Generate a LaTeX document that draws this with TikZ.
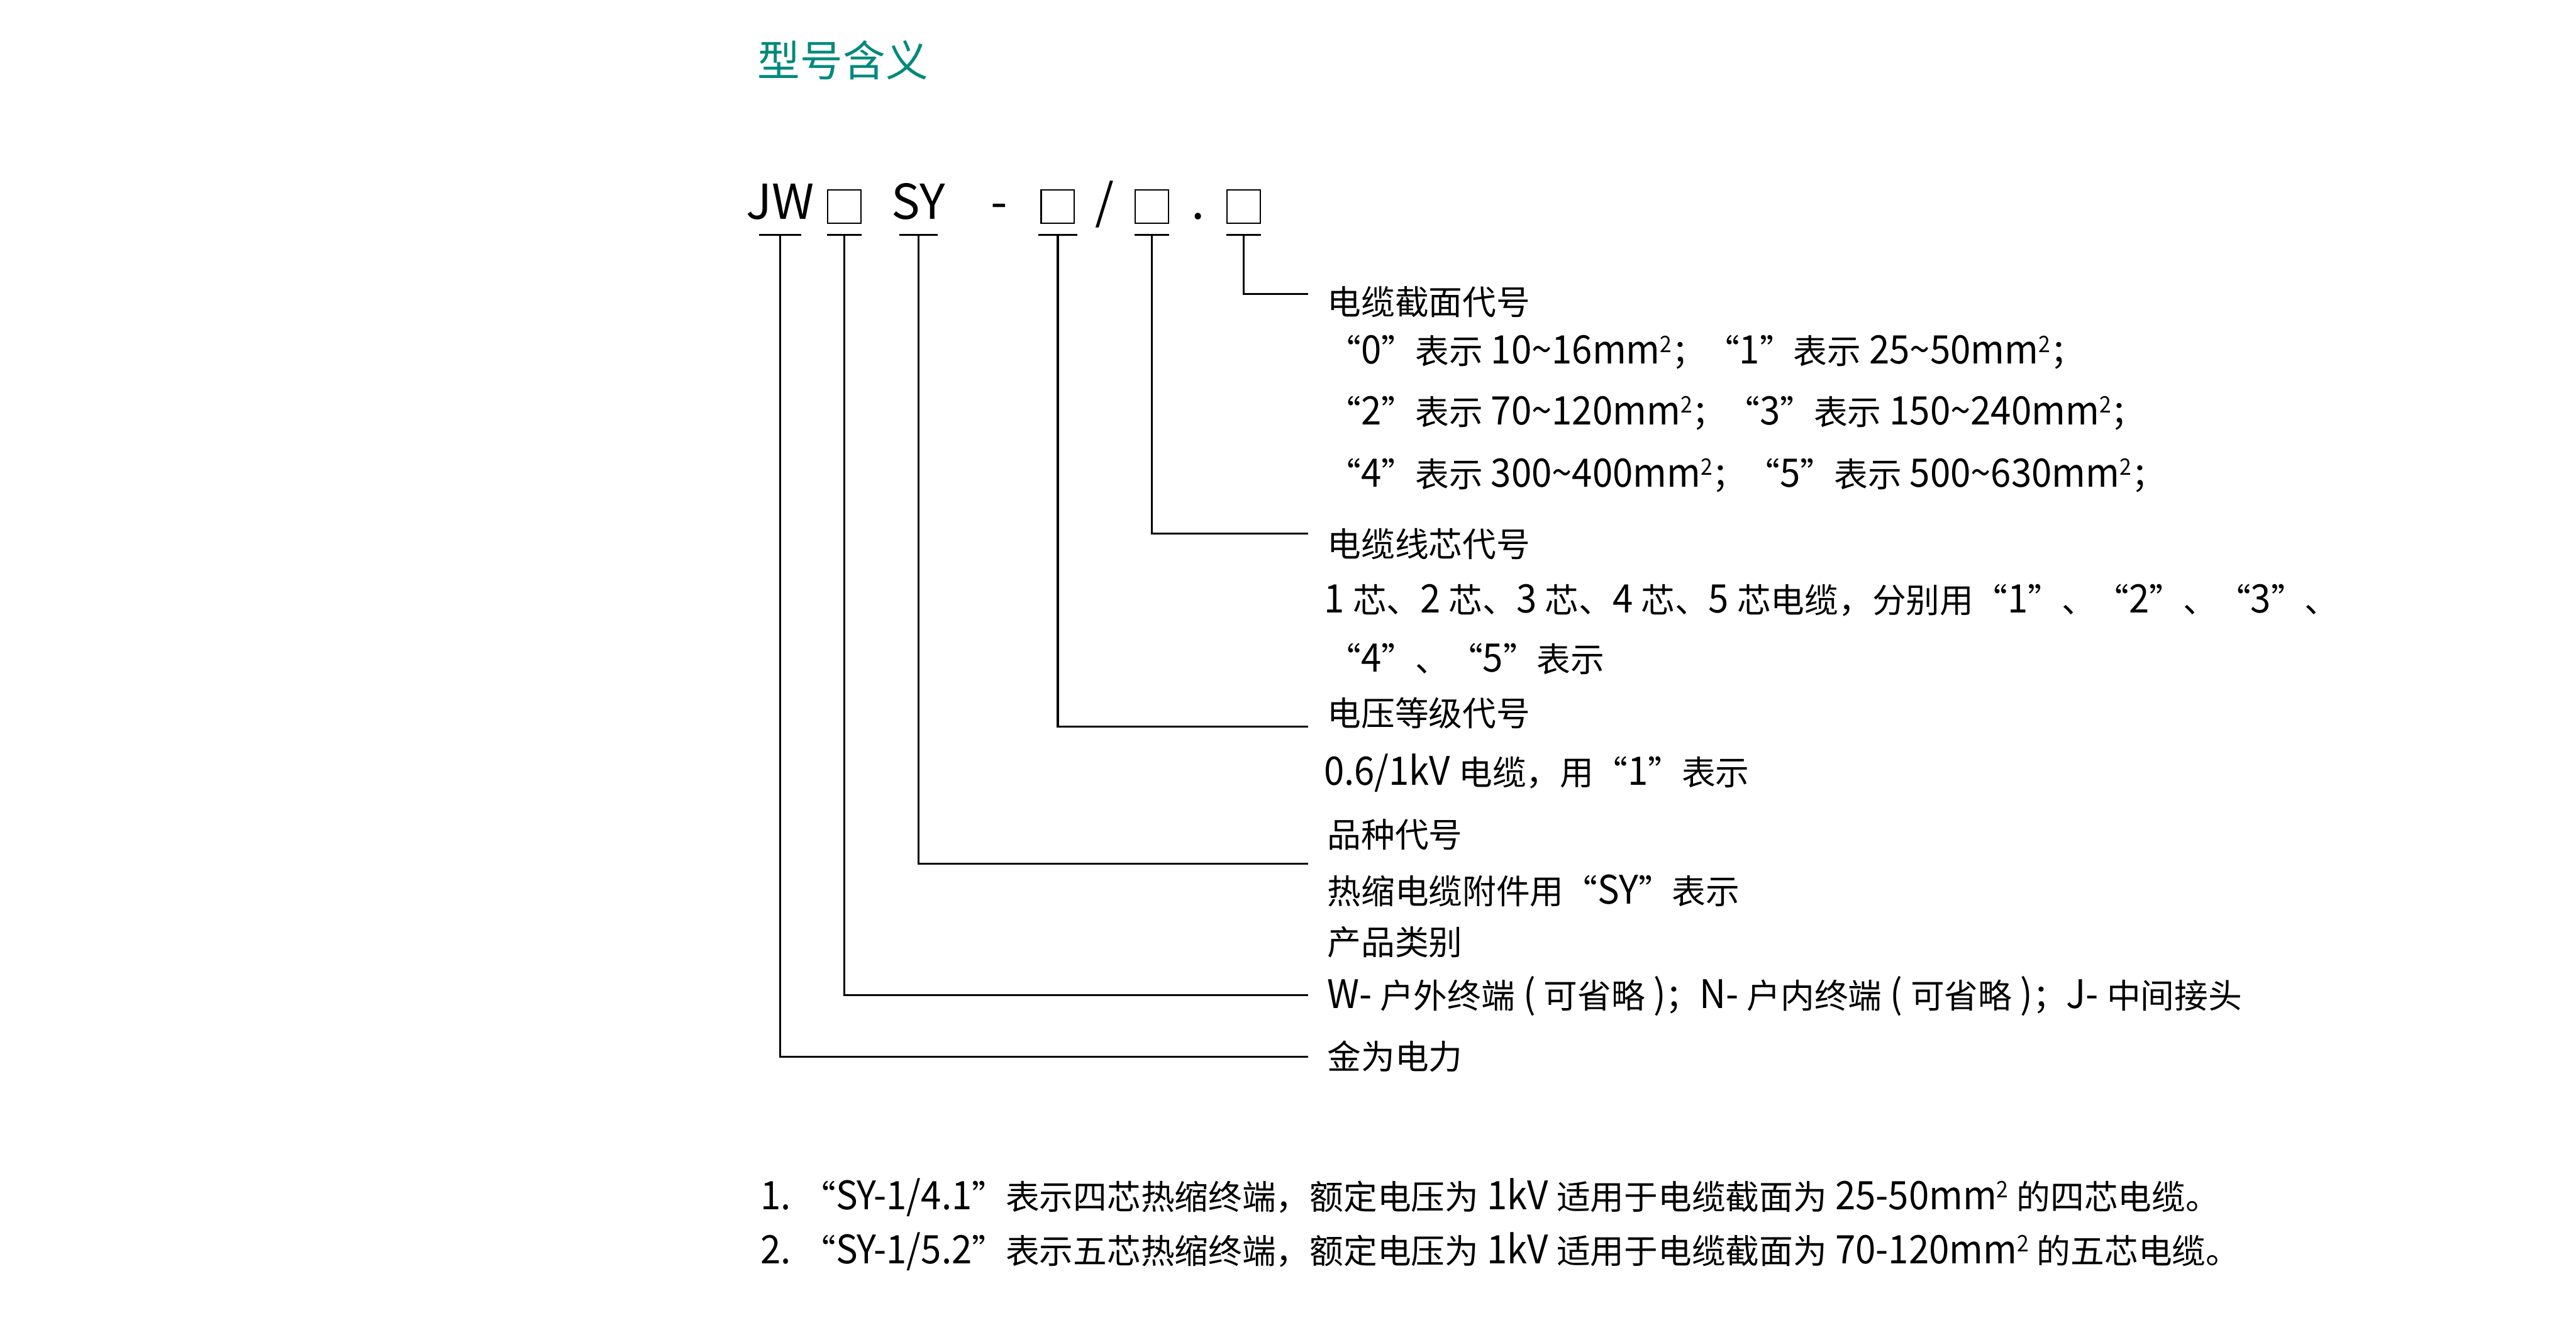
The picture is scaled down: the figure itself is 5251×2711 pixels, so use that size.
\documentclass[tikz,border=0pt]{standalone}
\usepackage{fontspec}
\setmainfont{Noto Sans CJK SC}
\newfontfamily\latf{Noto Sans CJK SC}[FakeStretch=0.93]
\definecolor{titlegreen}{RGB}{0,137,123}
\newcommand\zh{\fontsize{19.6}{24}\selectfont}
\newcommand\z[1]{{\latf\fontsize{22.8}{28}\selectfont #1}}
\newcommand\sq{\raisebox{6.8pt}{\fontsize{13.2}{14}\selectfont 2}}
\begin{document}
\begin{tikzpicture}[x=0.1mm,y=-0.1mm,
  lab/.style={anchor=base west, inner sep=0pt, font=\zh},
  code/.style={anchor=base, inner sep=0pt, font=\fontsize{27.9}{33}\selectfont},
  codebox/.style={draw, line width=0.77pt, minimum width=6.75mm, minimum height=6.75mm, inner sep=0pt},
  conn/.style={line width=1.25pt},
  tickbar/.style={line width=1.25pt}]
\useasboundingbox (0,0) rectangle (5251,2711);

% title
\node[anchor=base west, inner sep=0pt, font=\fontsize{24.7}{30}\selectfont, text=titlegreen] (title) at (1544,156) {型号含义};

% model code
\node[code] (jw) at (1590,447) {JW};
\node[codebox] (b1) at (1721,421) {};
\node[code] (sy) at (1872,447) {SY};
\node[code] (dash) at (2037,447) {-};
\node[codebox] (b2) at (2156,421) {};
\node[code] (slash) at (2252,447) {/};
\node[codebox] (b3) at (2348,421) {};
\node[code] (dot) at (2442,447) {.};
\node[codebox] (b4) at (2535,421) {};

\coordinate (tk) at (0,479);
\coordinate (e0) at (2666,2154);
\coordinate (e1) at (2666,2029);
\coordinate (es) at (2666,1761);
\coordinate (e2) at (2666,1481);
\coordinate (e3) at (2666,1088);
\coordinate (e4) at (2666,599);

% tick bars
\draw[tickbar] (jw |- tk) ++(-43,0) -- ++(86,0);
\draw[tickbar] (b1 |- tk) ++(-35,0) -- ++(70,0);
\draw[tickbar] (sy |- tk) ++(-39,0) -- ++(78,0);
\draw[tickbar] (b2 |- tk) ++(-40,0) -- ++(80,0);
\draw[tickbar] (b3 |- tk) ++(-35,0) -- ++(70,0);
\draw[tickbar] (b4 |- tk) ++(-35,0) -- ++(70,0);

% connectors
\draw[conn] (jw |- tk) |- (e0);
\draw[conn] (b1 |- tk) |- (e1);
\draw[conn] (sy |- tk) |- (es);
\draw[conn] (b2 |- tk) |- (e2);
\draw[conn] (b3 |- tk) |- (e3);
\draw[conn] (b4 |- tk) |- (e4);

% labels
\node[lab] (l4a) at (2705,641) {电缆截面代号};
\node[lab] (l4b) at (2705,742) {“\z{0}”表示\z{ 10\textasciitilde16mm\sq}；“\z{1}”表示\z{ 25\textasciitilde50mm\sq}；};
\node[lab] (l4c) at (2705,866) {“\z{2}”表示\z{ 70\textasciitilde120mm\sq}；“\z{3}”表示\z{ 150\textasciitilde240mm\sq}；};
\node[lab] (l4d) at (2705,993) {“\z{4}”表示\z{ 300\textasciitilde400mm\sq}；“\z{5}”表示\z{ 500\textasciitilde630mm\sq}；};
\node[lab] (l3a) at (2705,1135) {电缆线芯代号};
\node[lab] (l3b) at (2699,1249) {\z{1 }芯、\z{2 }芯、\z{3 }芯、\z{4 }芯、\z{5 }芯电缆，分别用“\z{1}”、“\z{2}”、“\z{3}”、};
\node[lab] (l3c) at (2705,1370) {“\z{4}”、“\z{5}”表示};
\node[lab] (l2a) at (2705,1480) {电压等级代号};
\node[lab] (l2b) at (2698,1600) {\z{0.6/1kV }电缆，用“\z{1}”表示};
\node[lab] (lsa) at (2705,1727) {品种代号};
\node[lab] (lsb) at (2705,1843) {热缩电缆附件用“\z{SY}”表示};
\node[lab] (l1a) at (2705,1947) {产品类别};
\node[lab] (l1b) at (2705,2056) {\z{W- }户外终端\z{ ( }可省略\z{ )}；\z{N- }户内终端\z{ ( }可省略\z{ )}；\z{J- }中间接头};
\node[lab] (l0) at (2705,2180) {金为电力};

% notes
\node[lab] (n1) at (1550,2466) {\z{1. }“\z{SY-1/4.1}”表示四芯热缩终端，额定电压为\z{ 1kV }适用于电缆截面为\z{ 25-50mm\sq{} }的四芯电缆。};
\node[lab] (n2) at (1550,2576) {\z{2. }“\z{SY-1/5.2}”表示五芯热缩终端，额定电压为\z{ 1kV }适用于电缆截面为\z{ 70-120mm\sq{} }的五芯电缆。};
\end{tikzpicture}
\end{document}
